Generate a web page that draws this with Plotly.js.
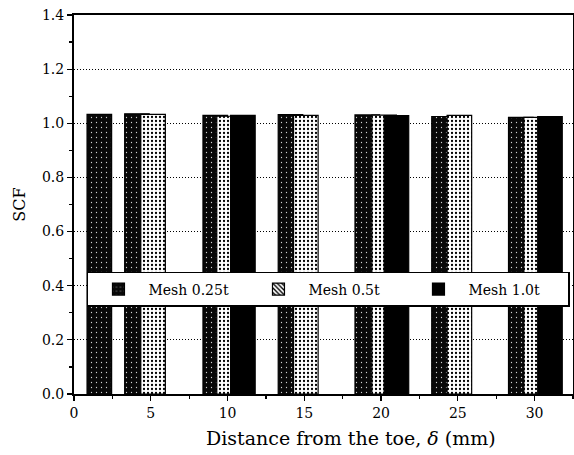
<!DOCTYPE html>
<html>
<head>
<meta charset="utf-8">
<script src="https://cdn.plot.ly/plotly-3.0.1.min.js"></script>
<style>html,body{margin:0;padding:0;background:#fff;}#chart{width:574px;height:455px;}</style>
</head>
<body>
<div id="chart"></div>
<script>
// Data
const seriesNames = ["Mesh 0.25t", "Mesh 0.5t", "Mesh 1.0t"];
const xMesh025 = [1.65, 4.1, 9.2, 14.1, 19.1, 24.1, 29.1];
const yMesh025 = [1.033, 1.035, 1.029, 1.032, 1.031, 1.025, 1.022];
const xMesh05 = [5.15, 10.1, 15.1, 20.2, 25.1, 30.1];
const yMesh05 = [1.033, 1.026, 1.029, 1.030, 1.029, 1.022];
const xMesh10 = [11.0, 21.0, 31.0];
const yMesh10 = [1.029, 1.028, 1.025];
const xTicks = [0, 5, 10, 15, 20, 25, 30];
const yTicks = [0, 0.2, 0.4, 0.6, 0.8, 1.0, 1.2, 1.4];

const darkPat = {shape: '.', bgcolor: '#080808', fgcolor: '#d0d0d0', size: 5, solidity: 0.05, fillmode: 'replace'};
const dotPat = {shape: '.', bgcolor: '#ffffff', fgcolor: '#000000', size: 4, solidity: 0.25, fillmode: 'replace'};
const hatchPat = {shape: '\\', bgcolor: '#ffffff', fgcolor: '#000000', size: 4, solidity: 0.45, fillmode: 'replace'};
const BW = 1.6;
const line = {color: '#000', width: 1.2};

const traces = [
  {type: 'bar', x: xMesh025, y: yMesh025, width: BW, name: seriesNames[0], showlegend: false,
   marker: {color: '#080808', pattern: darkPat, line: line}},
  {type: 'bar', x: xMesh05, y: yMesh05, width: BW, name: seriesNames[1], showlegend: false,
   marker: {color: '#ffffff', pattern: dotPat, line: line}},
  {type: 'bar', x: xMesh10, y: yMesh10, width: BW, name: seriesNames[2], showlegend: false,
   marker: {color: '#000000', line: line}},
  // legend entries
  {type: 'bar', x: [null], y: [null], name: seriesNames[0], marker: {color: '#080808', pattern: darkPat, line: line}},
  {type: 'bar', x: [null], y: [null], name: seriesNames[1], marker: {color: '#ffffff', pattern: hatchPat, line: line}},
  {type: 'bar', x: [null], y: [null], name: seriesNames[2], marker: {color: '#000000', line: line}}
];

const font = {family: 'DejaVu Serif, Liberation Serif, serif', color: '#000'};

const layout = {
  width: 574, height: 455,
  margin: {l: 74, r: 1, t: 15, b: 61},
  paper_bgcolor: '#fff', plot_bgcolor: '#fff',
  barmode: 'overlay',
  font: Object.assign({size: 14}, font),
  showlegend: true,
  legend: {
    orientation: 'h', x: 0.026, y: 0.322, xanchor: 'left', yanchor: 'top',
    bgcolor: '#fff', bordercolor: '#000', borderwidth: 1.5,
    font: Object.assign({size: 14}, font),
    itemwidth: 50, entrywidth: 95, traceorder: 'normal'
  },
  xaxis: {
    range: [0, 32.5], tickvals: xTicks, ticktext: xTicks.map(String),
    ticks: 'outside', ticklen: 5, tickwidth: 1.2, tickcolor: '#000',
    minor: {dtick: 2.5, tick0: 0, ticks: 'outside', ticklen: 3, tickcolor: '#000', showgrid: false},
    showline: true, linecolor: '#000', linewidth: 2, mirror: true,
    showgrid: false, zeroline: false,
    tickfont: Object.assign({size: 14}, font)
  },
  yaxis: {
    range: [0, 1.4], tickvals: yTicks, ticktext: yTicks.map(v => v.toFixed(1)),
    ticks: 'outside', ticklen: 5, tickwidth: 1.2, tickcolor: '#000',
    minor: {dtick: 0.1, tick0: 0, ticks: 'outside', ticklen: 3, tickcolor: '#000', showgrid: false},
    showline: true, linecolor: '#000', linewidth: 2, mirror: true,
    showgrid: true, gridcolor: '#000', gridwidth: 1, griddash: '1px,2px',
    zeroline: false,
    tickfont: Object.assign({size: 14}, font),
    title: {text: 'SCF', font: Object.assign({size: 16}, font), standoff: 12}
  },
  annotations: [{
    text: 'Distance from the toe, <i>δ</i> (mm)', xref: 'paper', yref: 'paper',
    x: 0.555, y: -0.115, xanchor: 'center', yanchor: 'middle', showarrow: false,
    font: Object.assign({size: 19}, font)
  }]
};

Plotly.newPlot('chart', traces, layout, {displayModeBar: false, staticPlot: true});
</script>
</body>
</html>
